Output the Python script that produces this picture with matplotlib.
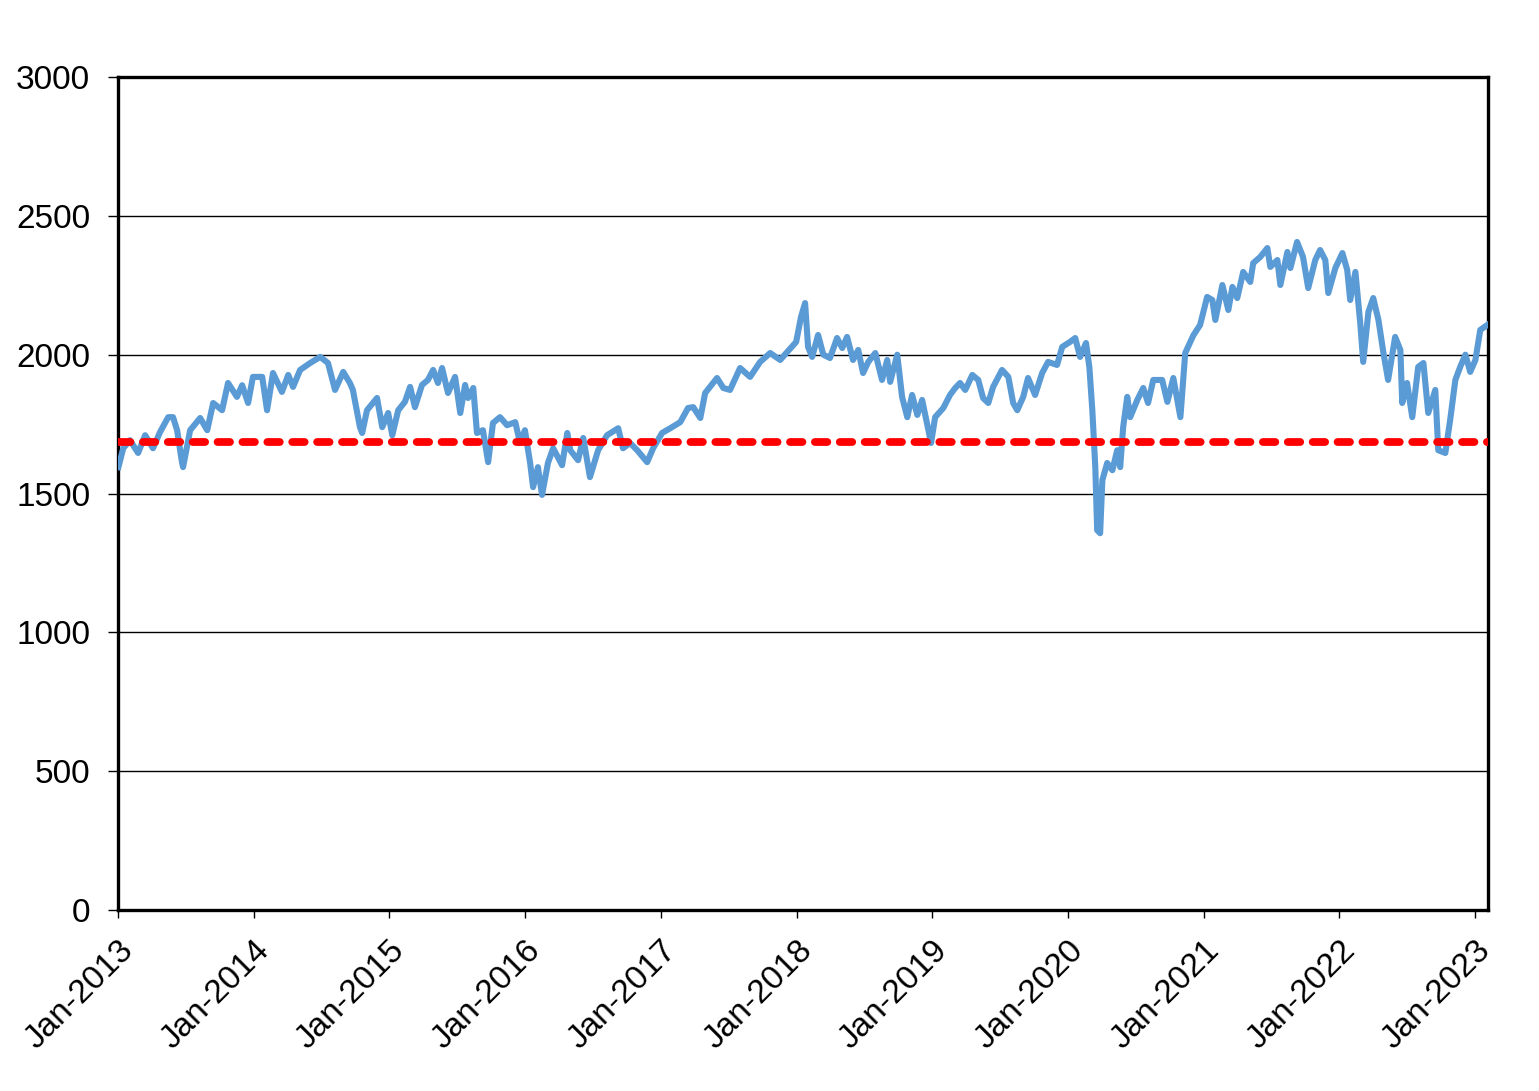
import pandas as pd
import numpy as np
import matplotlib
matplotlib.use('Agg')
import matplotlib.pyplot as plt
import matplotlib.dates as mdates

plt.rcParams['font.family'] = ['Liberation Sans', 'DejaVu Sans']

# values
dates = ['2013-01-02', '2013-01-15', '2013-02-02', '2013-02-24', '2013-03-15', '2013-04-05',
         '2013-04-24', '2013-05-16', '2013-05-29', '2013-06-09', '2013-06-22', '2013-06-25',
         '2013-07-14', '2013-08-10', '2013-08-29', '2013-09-14', '2013-10-08', '2013-10-24',
         '2013-11-17', '2013-12-01', '2013-12-17', '2013-12-30', '2014-01-24', '2014-02-06',
         '2014-02-22', '2014-03-18', '2014-04-04', '2014-04-17', '2014-05-06', '2014-06-02',
         '2014-06-29', '2014-07-20', '2014-08-08', '2014-08-30', '2014-09-17', '2014-09-25',
         '2014-10-14', '2014-10-20', '2014-11-02', '2014-11-29', '2014-12-13', '2014-12-29',
         '2015-01-09', '2015-01-25', '2015-02-12', '2015-02-26', '2015-03-11', '2015-03-30',
         '2015-04-15', '2015-04-29', '2015-05-12', '2015-05-23', '2015-06-08', '2015-06-27',
         '2015-07-11', '2015-07-24', '2015-08-01', '2015-08-15', '2015-08-25', '2015-09-10',
         '2015-09-24', '2015-10-07', '2015-10-26', '2015-11-14', '2015-12-06', '2015-12-19',
         '2016-01-01', '2016-01-15', '2016-01-23', '2016-02-05', '2016-02-16', '2016-03-03',
         '2016-03-17', '2016-04-10', '2016-04-24', '2016-05-02', '2016-05-23', '2016-06-06',
         '2016-06-24', '2016-07-16', '2016-08-09', '2016-09-08', '2016-09-21', '2016-10-10',
         '2016-10-29', '2016-11-25', '2016-12-11', '2017-01-04', '2017-01-26', '2017-02-22',
         '2017-03-15', '2017-03-29', '2017-04-17', '2017-04-30', '2017-06-01', '2017-06-18',
         '2017-07-06', '2017-08-02', '2017-08-29', '2017-09-25', '2017-10-22', '2017-11-18',
         '2017-12-07', '2017-12-31', '2018-01-13', '2018-01-24', '2018-02-01', '2018-02-12',
         '2018-02-28', '2018-03-14', '2018-04-01', '2018-04-20', '2018-05-04', '2018-05-17',
         '2018-06-02', '2018-06-16', '2018-06-29', '2018-07-13', '2018-08-01', '2018-08-19',
         '2018-09-02', '2018-09-10', '2018-09-29', '2018-10-12', '2018-10-26', '2018-11-08',
         '2018-11-22', '2018-12-05', '2018-12-19', '2018-12-29', '2019-01-09', '2019-01-31',
         '2019-02-18', '2019-03-04', '2019-03-17', '2019-03-31', '2019-04-19', '2019-05-05',
         '2019-05-18', '2019-06-01', '2019-06-14', '2019-07-08', '2019-07-25', '2019-08-07',
         '2019-08-18', '2019-09-03', '2019-09-16', '2019-10-05', '2019-10-24', '2019-11-09',
         '2019-12-03', '2019-12-17', '2020-01-07', '2020-01-21', '2020-02-03', '2020-02-19',
         '2020-02-28', '2020-03-07', '2020-03-15', '2020-03-20', '2020-03-28', '2020-04-03',
         '2020-04-16', '2020-04-30', '2020-05-13', '2020-05-21', '2020-05-29', '2020-06-09',
         '2020-06-17', '2020-07-06', '2020-07-22', '2020-08-04', '2020-08-18', '2020-09-11',
         '2020-09-25', '2020-10-11', '2020-10-30', '2020-11-12', '2020-12-04', '2020-12-22',
         '2021-01-10', '2021-01-24', '2021-02-01', '2021-02-20', '2021-03-08', '2021-03-19',
         '2021-04-01', '2021-04-17', '2021-05-06', '2021-05-14', '2021-06-02', '2021-06-21',
         '2021-06-29', '2021-07-18', '2021-07-26', '2021-08-14', '2021-08-22', '2021-09-09',
         '2021-09-25', '2021-10-09', '2021-10-28', '2021-11-10', '2021-11-24', '2021-12-02',
         '2021-12-21', '2022-01-09', '2022-01-22', '2022-01-30', '2022-02-13', '2022-02-26',
         '2022-03-06', '2022-03-20', '2022-04-02', '2022-04-16', '2022-04-29', '2022-05-12',
         '2022-05-31', '2022-06-14', '2022-06-19', '2022-07-02', '2022-07-16', '2022-08-01',
         '2022-08-15', '2022-08-28', '2022-09-16', '2022-09-24', '2022-10-13', '2022-10-26',
         '2022-11-09', '2022-11-22', '2022-12-06', '2022-12-19', '2023-01-02', '2023-01-15',
         '2023-02-03']
index_vals = [1595, 1663, 1692, 1646, 1710, 1663,
              1721, 1775, 1775, 1728, 1613, 1595,
              1728, 1772, 1728, 1826, 1800, 1898,
              1848, 1890, 1826, 1920, 1920, 1800,
              1934, 1866, 1927, 1884, 1945, 1970,
              1992, 1970, 1873, 1938, 1898, 1873,
              1739, 1718, 1800, 1844, 1739, 1790,
              1710, 1800, 1830, 1884, 1811, 1891,
              1909, 1945, 1898, 1952, 1862, 1920,
              1790, 1891, 1844, 1880, 1718, 1728,
              1613, 1754, 1775, 1746, 1757, 1682,
              1728, 1610, 1523, 1595, 1495, 1610,
              1663, 1602, 1718, 1656, 1620, 1700,
              1559, 1656, 1710, 1735, 1663, 1682,
              1656, 1613, 1663, 1718, 1735, 1757,
              1808, 1811, 1772, 1862, 1916, 1880,
              1873, 1952, 1920, 1974, 2006, 1981,
              2010, 2046, 2136, 2186, 2028, 1992,
              2071, 2000, 1988, 2060, 2024, 2064,
              1981, 2017, 1934, 1974, 2006, 1909,
              1981, 1902, 2000, 1848, 1775, 1855,
              1783, 1837, 1746, 1682, 1775, 1808,
              1855, 1880, 1898, 1873, 1927, 1909,
              1844, 1826, 1884, 1945, 1920, 1826,
              1800, 1848, 1916, 1855, 1934, 1974,
              1963, 2028, 2046, 2060, 1992, 2042,
              1956, 1800, 1595, 1368, 1357, 1548,
              1610, 1584, 1656, 1595, 1739, 1848,
              1775, 1837, 1880, 1826, 1909, 1909,
              1830, 1916, 1775, 2006, 2070, 2107,
              2208, 2197, 2125, 2251, 2161, 2244,
              2204, 2298, 2262, 2330, 2352, 2384,
              2316, 2341, 2251, 2370, 2312, 2406,
              2352, 2240, 2341, 2377, 2341, 2222,
              2312, 2366, 2305, 2197, 2298, 2114,
              1974, 2154, 2204, 2125, 2010, 1909,
              2064, 2017, 1826, 1898, 1775, 1956,
              1970, 1790, 1873, 1656, 1646, 1765,
              1909, 1956, 2000, 1938, 1981, 2089,
              2107]
ref_level = 1686

df = pd.DataFrame({'date': pd.to_datetime(dates), 'value': index_vals})

fig = plt.figure(figsize=(15.39, 10.91), dpi=100)
ax = fig.add_axes([0.0767, 0.1659, 0.8902, 0.7635])

ax.plot(df.date, df.value, color='#5B9BD5', lw=4.4, solid_joinstyle='round', zorder=3)
ax.axhline(ref_level, color='#FF0000', lw=5.6, dashes=(1.6, 1.6),
           dash_capstyle='round', zorder=4)

ax.set_ylim(0, 3000)
ax.set_yticks(np.arange(0, 3001, 500))
ax.set_xlim(pd.Timestamp('2013-01-01'), pd.Timestamp('2023-02-05'))
ax.xaxis.set_major_locator(mdates.YearLocator())
ax.xaxis.set_major_formatter(mdates.DateFormatter('%b-%Y'))

ax.grid(axis='y', color='black', lw=1.0)
ax.set_axisbelow(True)
for s in ax.spines.values():
    s.set_linewidth(2.4)
    s.set_color('black')

ax.tick_params(axis='y', direction='out', length=7, width=1, pad=13, labelsize=24)
ax.tick_params(axis='x', direction='out', length=6, width=1, pad=12, labelsize=24)
for lab in ax.get_xticklabels():
    lab.set_rotation(45)
    lab.set_ha('right')
    lab.set_va('top')
    lab.set_rotation_mode('anchor')

fig.savefig('out.png', dpi=100, facecolor='white')
